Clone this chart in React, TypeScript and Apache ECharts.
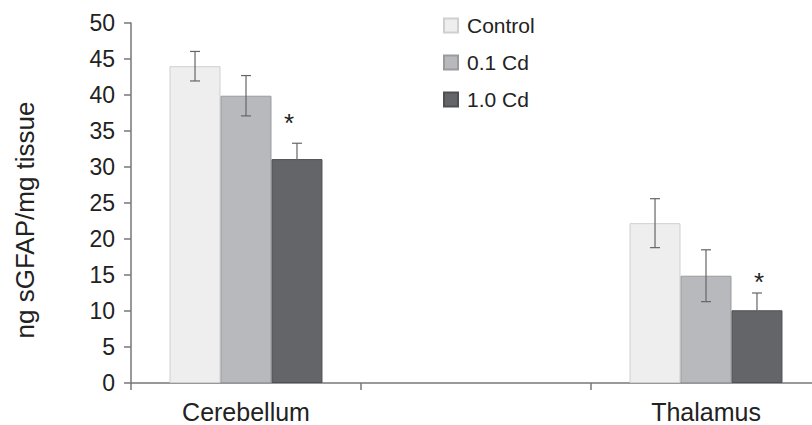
import React, { useEffect, useRef } from "react";
import * as echarts from "echarts";

const categories = ["Cerebellum", "", "Thalamus"];
const seriesNames = ["Control", "0.1 Cd", "1.0 Cd"];
const controlValues = [44.0, null, 22.2];
const cd01Values = [39.9, null, 14.9];
const cd10Values = [31.1, null, 10.1];
const controlErr = [2.05, null, 3.4];
const cd01Err = [2.8, null, 3.6];
const cd10Err = [2.2, null, 2.4];
// significance marks: [category index, y value of the mark, series index]
const sigMarks = [
  [0, 36.3, 2],
  [2, 14.1, 2],
];
const sigMarkDx = [-8, 2];
const yTicks = { min: 0, max: 50, interval: 5 };

const barColors = ["#eeeeee", "#b8b9bc", "#646568"];
const barBorders = ["#cfcfcf", "#9a9b9e", "#4f5053"];
const CAT_GAP = 0.335;

export default function App() {
  const ref = useRef<HTMLDivElement>(null);
  useEffect(() => {
    if (!ref.current) return;
    const chart = echarts.init(ref.current, null, { renderer: "svg" });
    const values = [controlValues, cd01Values, cd10Values];
    const errs = [controlErr, cd01Err, cd10Err];
    const errData: any[] = [];
    values.forEach((arr, s) => {
      arr.forEach((v, c) => {
        const e = errs[s][c];
        if (v != null && e != null) errData.push([c, v - e, v + e, s]);
      });
    });
    const font = "'Liberation Sans', Arial, Helvetica, sans-serif";
    const option: any = {
      animation: false,
      textStyle: { fontFamily: font, color: "#222" },
      grid: { left: 131, top: 23, width: 690, height: 360 },
      legend: {
        orient: "vertical",
        left: 438,
        top: 10,
        itemWidth: 14,
        itemHeight: 14,
        itemGap: 16,
        icon: "rect",
        textStyle: { fontSize: 21, color: "#222", fontFamily: font, padding: [0, 0, 0, 4] },
        data: seriesNames,
      },
      xAxis: {
        type: "category",
        data: categories,
        axisLine: { lineStyle: { color: "#777", width: 1.5 } },
        axisTick: { show: true, length: 7, lineStyle: { color: "#777", width: 1.5 } },
        axisLabel: { fontSize: 25, lineHeight: 20, color: "#222", margin: 19, fontFamily: font, interval: 0 },
      },
      yAxis: {
        type: "value",
        min: yTicks.min,
        max: yTicks.max,
        interval: yTicks.interval,
        splitLine: { show: false },
        axisLine: { show: true, lineStyle: { color: "#777", width: 1.5 } },
        axisTick: { show: true, length: 7, lineStyle: { color: "#777", width: 1.5 } },
        axisLabel: { fontSize: 23, color: "#222", margin: 16, fontFamily: font },
      },
      graphic: [
        {
          type: "text",
          x: 25,
          y: 220,
          rotation: Math.PI / 2,
          style: {
            text: "ng sGFAP/mg tissue",
            fontSize: 26,
            fontFamily: font,
            fill: "#222",
            align: "center",
            verticalAlign: "middle",
          },
        },
      ],
      series: [
        ...values.map((arr, s) => ({
          name: seriesNames[s],
          type: "bar",
          data: arr.map((v) => (v == null ? "-" : v)),
          barGap: "0%",
          barCategoryGap: CAT_GAP * 100 + "%",
          itemStyle: { color: barColors[s], borderColor: barBorders[s], borderWidth: 1 },
        })),
        {
          type: "custom",
          z: 10,
          data: errData,
          renderItem: (params: any, api: any) => {
            const c = api.value(0);
            const lo = api.coord([c, api.value(1)]);
            const hi = api.coord([c, api.value(2)]);
            const bandW = api.size([1, 0])[0];
            const barW = (bandW * (1 - CAT_GAP)) / 3;
            const x = lo[0] + (api.value(3) - 1) * barW;
            const cap = 5;
            const st = { stroke: "#666", lineWidth: 1.2 };
            return {
              type: "group",
              children: [
                { type: "line", shape: { x1: x, y1: lo[1], x2: x, y2: hi[1] }, style: st },
                { type: "line", shape: { x1: x - cap, y1: lo[1], x2: x + cap, y2: lo[1] }, style: st },
                { type: "line", shape: { x1: x - cap, y1: hi[1], x2: x + cap, y2: hi[1] }, style: st },
              ],
            };
          },
        },
        {
          type: "custom",
          z: 11,
          data: sigMarks,
          renderItem: (params: any, api: any) => {
            const c = api.value(0);
            const p = api.coord([c, api.value(1)]);
            const bandW = api.size([1, 0])[0];
            const barW = (bandW * (1 - CAT_GAP)) / 3;
            const x = p[0] + (api.value(2) - 1) * barW + sigMarkDx[params.dataIndex];
            return {
              type: "text",
              x,
              y: p[1] + 1,
              style: {
                text: "*",
                fontSize: 26,
                fontFamily: font,
                fill: "#222",
                align: "center",
                verticalAlign: "middle",
              },
            };
          },
        },
      ],
    };
    chart.setOption(option);
    return () => chart.dispose();
  }, []);
  return (
    <div style={{ width: 812, height: 425, position: "absolute", left: 0, top: 0, overflow: "hidden" }}>
      <div ref={ref} style={{ width: 840, height: 425 }} />
    </div>
  );
}
